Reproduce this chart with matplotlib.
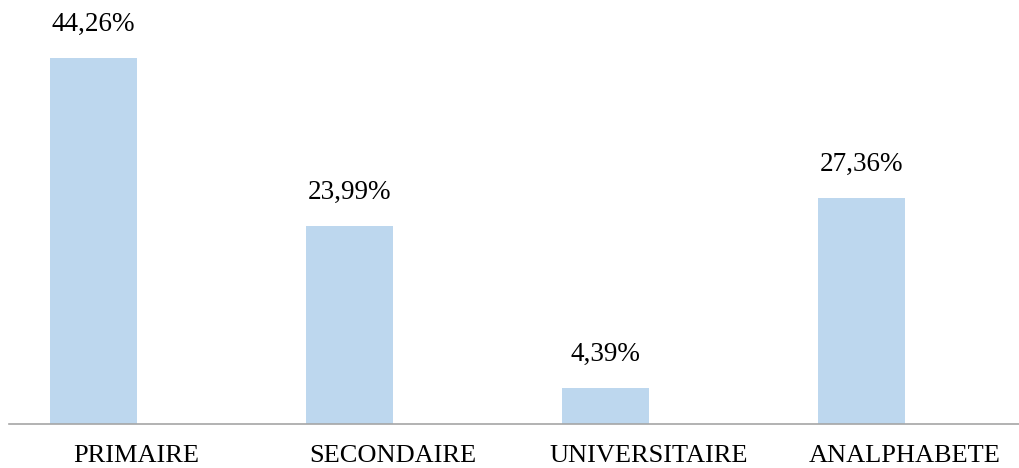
import matplotlib.pyplot as plt
import matplotlib.transforms as mtransforms

categories = ["PRIMAIRE", "SECONDAIRE", "UNIVERSITAIRE", "ANALPHABETE"]
values = [44.26, 23.99, 4.39, 27.36]
labels = ["44,26%", "23,99%", "4,39%", "27,36%"]

plt.rcParams['font.family'] = ['Liberation Serif', 'DejaVu Serif']

fig = plt.figure(figsize=(10.2, 4.68), dpi=100)
ax = fig.add_axes([0.009, 0.094, 0.991, 0.906])

x = range(len(categories))
ax.bar(x, values, width=0.34, color="#BDD7EE")
for i, v in enumerate(values):
    ax.annotate(labels[i], (i, v), xytext=(0, 15), textcoords="offset points",
                ha="center", va="bottom", fontsize=19.5, color="#000000")

ax.set_xlim(-0.33, 3.62)
ax.set_ylim(0, 51.27)
ax.set_xticks(list(x))
ax.set_xticklabels(categories, fontsize=19)
ax.tick_params(axis="x", length=0, pad=15)
# labels sit a bit right of the bars in the original
shift = mtransforms.ScaledTranslation(0.43, 0, fig.dpi_scale_trans)
for lab in ax.get_xticklabels():
    lab.set_transform(lab.get_transform() + shift)
ax.set_yticks([])
for s in ["top", "right", "left"]:
    ax.spines[s].set_visible(False)
ax.spines["bottom"].set_color("#A6A6A6")
ax.spines["bottom"].set_linewidth(1.2)

fig.savefig("out.png", dpi=100)
